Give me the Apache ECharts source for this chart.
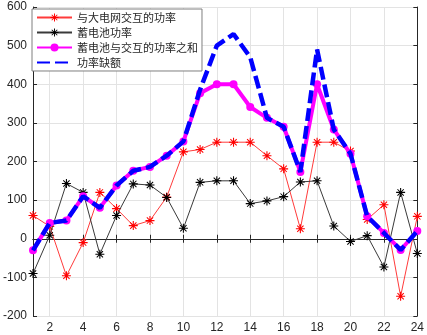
<!DOCTYPE html>
<html>
<head>
<meta charset="utf-8">
<script src="https://cdn.jsdelivr.net/npm/echarts@6/dist/echarts.min.js"></script>
<style>
  html, body { margin: 0; padding: 0; background: #fff; }
  #chart { width: 427px; height: 335px; }
</style>
</head>
<body>
<div id="chart"></div>
<script>
// hours 1..24
const hours = [1,2,3,4,5,6,7,8,9,10,11,12,13,14,15,16,17,18,19,20,21,22,23,24];

// 与大电网交互的功率
const gridPower = [60,32,-96,-10,120,78,34,47,108,225,231,250,250,250,215,181,26,250,250,227,50,88,-149,58];
// 蓄电池功率
const batteryPower = [-90,9,143,120,-40,60,142,139,107,27,146,150,150,91,98,109,147,150,33,-7,8,-73,120,-38];
// 蓄电池与交互的功率之和
const sumPower = [-30,41,47,110,80,138,176,186,215,252,377,400,400,341,313,290,173,400,283,220,58,15,-29,20];
// 功率缺额
const deficit = [-30,41,47,110,80,138,176,186,215,252,386,500,530,470,313,290,173,490,283,220,58,15,-29,20];

const names = ["与大电网交互的功率", "蓄电池功率", "蓄电池与交互的功率之和", "功率缺额"];

// matlab style '*' marker
const star = "path://M-1 -0.12L1 -0.12L1 0.12L-1 0.12Z M-0.12 -1L0.12 -1L0.12 1L-0.12 1Z " +
  "M-0.78 -0.62L-0.62 -0.78L0.78 0.62L0.62 0.78Z M0.62 -0.78L0.78 -0.62L-0.62 0.78L-0.78 0.62Z";

const axisColor = "#262626";
const gridColor = "#e3e3e3";
const font = "'Liberation Sans', Arial, sans-serif";

const evenOnly = (i) => i % 2 === 1;

const option = {
  animation: false,
  backgroundColor: "#fff",
  grid: { left: 31, right: 6, top: 7, bottom: 19 },
  legend: {
    orient: "vertical",
    left: 32,
    top: 9,
    data: [
      { name: names[0] },
      { name: names[1] },
      { name: names[2] },
      { name: names[3], itemStyle: { opacity: 0 } },
    ],
    backgroundColor: "#fff",
    borderColor: "#7f7f7f",
    borderWidth: 1,
    padding: [3, 4, 3, 4],
    itemWidth: 35,
    itemHeight: 10,
    itemGap: 4,
    textStyle: { color: "#262626", fontSize: 11, fontFamily: "'Noto Sans CJK SC', sans-serif" },
  },
  xAxis: [
    {
      type: "category",
      data: hours,
      boundaryGap: false,
      axisLine: { lineStyle: { color: axisColor, width: 1 } },
      axisTick: { inside: true, length: 4, interval: evenOnly, lineStyle: { color: axisColor } },
      axisLabel: { interval: evenOnly, color: axisColor, fontSize: 12, fontFamily: font, margin: 6 },
      splitLine: { show: true, interval: evenOnly, lineStyle: { color: gridColor } },
    },
    {
      type: "category",
      data: hours,
      boundaryGap: false,
      position: "top",
      axisLine: { lineStyle: { color: axisColor, width: 1 } },
      axisTick: { inside: true, length: 4, interval: evenOnly, lineStyle: { color: axisColor } },
      axisLabel: { show: false },
      splitLine: { show: false },
    },
  ],
  yAxis: [
    {
      type: "value",
      min: -200,
      max: 600,
      interval: 100,
      axisLine: { show: true, lineStyle: { color: axisColor, width: 1 } },
      axisTick: { show: true, inside: true, length: 4, lineStyle: { color: axisColor } },
      axisLabel: { color: axisColor, fontSize: 12, fontFamily: font, margin: 6 },
      splitLine: { show: true, lineStyle: { color: gridColor } },
    },
    {
      type: "value",
      min: -200,
      max: 600,
      interval: 100,
      position: "right",
      axisLine: { show: true, lineStyle: { color: axisColor, width: 1 } },
      axisTick: { show: true, inside: true, length: 4, lineStyle: { color: axisColor } },
      axisLabel: { show: false },
      splitLine: { show: false },
    },
  ],
  series: [
    {
      name: names[0],
      type: "line",
      data: gridPower,
      symbol: star,
      symbolSize: 9,
      lineStyle: { color: "#ff3b3b", width: 1 },
      itemStyle: { color: "#ff0000" },
      z: 2,
    },
    {
      name: names[1],
      type: "line",
      data: batteryPower,
      symbol: star,
      symbolSize: 9,
      lineStyle: { color: "#3a3a3a", width: 1 },
      itemStyle: { color: "#000000" },
      z: 3,
    },
    {
      name: names[2],
      type: "line",
      data: sumPower,
      symbol: "circle",
      symbolSize: 8,
      lineStyle: { color: "#ff00ff", width: 4 },
      itemStyle: { color: "#ff00ff" },
      z: 4,
    },
    {
      name: names[3],
      type: "line",
      data: deficit,
      symbol: "none",
      lineStyle: { color: "#0000ff", width: 4.5, type: [13, 5] },
      itemStyle: { color: "#0000ff" },
      z: 5,
    },
  ],
};

const chart = echarts.init(document.getElementById("chart"));
chart.setOption(option);
</script>
</body>
</html>
